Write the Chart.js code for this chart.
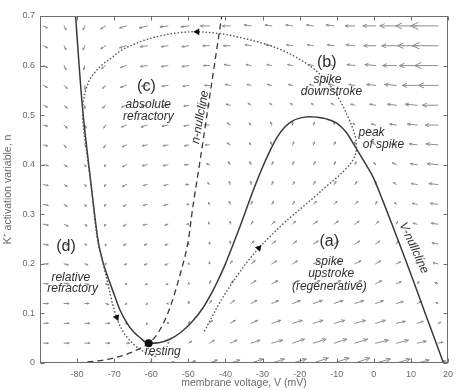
<!DOCTYPE html>
<html><head><meta charset="utf-8">
<script src="https://cdn.jsdelivr.net/npm/chart.js@4.4.1/dist/chart.umd.min.js"></script>
<style>html,body{margin:0;padding:0;background:#fff;}</style>
</head><body>
<canvas id="c" width="459" height="390" style="width:459px;height:390px;display:block"></canvas>
<script>
// ---------- data ----------
const xTickValues = [-90,-80,-70,-60,-50,-40,-30,-20,-10,0,10,20];
const yTickValues = [0,0.1,0.2,0.3,0.4,0.5,0.6,0.7];

// V-nullcline (solid)
const vNullV = [-80.4,-79.5,-78.5,-77.3,-76.1,-75.2,-74.3,-73.2,-71.4,-70,-68.5,-66.5,-64.8,-63,-60.8,-58,-55,-52,-49,-46,-43.6,-42,-40,-38,-36,-34,-32,-30,-28,-26,-24,-22,-20,-17.5,-15.4,-13,-10,-7.5,-5,-2.5,0,2.5,5,7.5,10,12.5,15,17.5,18.8];
const vNullN = [0.700,0.605,0.511,0.428,0.352,0.295,0.245,0.208,0.167,0.138,0.108,0.080,0.063,0.051,0.040,0.041,0.048,0.062,0.083,0.112,0.143,0.167,0.200,0.238,0.277,0.318,0.358,0.395,0.428,0.456,0.476,0.488,0.494,0.497,0.496,0.493,0.484,0.466,0.436,0.405,0.372,0.326,0.278,0.229,0.179,0.128,0.077,0.026,0.0];

// n-nullcline (dashed)
const nNullV = [-88,-84.6,-77.2,-70.1,-64,-59,-55.5,-52.1,-50,-48.9,-46.8,-44.8,-41.0];
const nNullN = [0,0,0.002,0.010,0.026,0.052,0.101,0.182,0.248,0.309,0.41,0.51,0.70];

// spike trajectory (dotted)
const trajV = [-45.6,-43.5,-41.3,-39,-36.5,-34,-31,-28,-25,-22,-19,-16,-13,-10,-7.5,-5.6,-4.7,-4.8,-5.6,-7,-8.8,-11,-13.8,-17,-21,-25,-30,-35.7,-41,-47.6,-53,-57.5,-61.5,-65,-68.2,-71,-73.2,-75,-76.5,-77.6,-78.3,-78.5,-78.2,-77.5,-76.6,-75.8,-75.1,-74.3,-73.3,-72.5,-71.7,-70.8,-69.9,-69.0,-67.8,-66.3,-64.5,-62.5,-60.5,-58.5];
const trajN = [0.065,0.095,0.125,0.152,0.18,0.205,0.232,0.255,0.277,0.297,0.316,0.335,0.355,0.374,0.392,0.41,0.43,0.45,0.472,0.497,0.525,0.552,0.577,0.598,0.617,0.632,0.645,0.656,0.664,0.668,0.666,0.66,0.652,0.642,0.63,0.614,0.602,0.588,0.573,0.552,0.528,0.5,0.47,0.43,0.38,0.33,0.28,0.24,0.21,0.185,0.16,0.13,0.105,0.085,0.066,0.05,0.036,0.025,0.017,0.013];

// direction markers on the trajectory (V, n, heading in degrees clockwise from up)
const markV = [-31, -47.6, -69.3];
const markN = [0.232, 0.668, 0.092];
const markHeading = [42, -90, 158];

// resting state
const restV = [-60.7];
const restN = [0.040];

// vector field grid
const fieldV = [-89.1,-83.5,-77.9,-72.3,-66.7,-61.1,-55.5,-49.9,-44.3,-38.7,-33.1,-27.5,-21.9,-16.3,-10.7,-5.1,0.5,6.1,11.7,17.3];
const fieldN = [0,0.04,0.08,0.12,0.16,0.20,0.24,0.28,0.32,0.36,0.40,0.44,0.48,0.52,0.56,0.60,0.64,0.68];
// arrow components: V part (mV), rows from n=0 upward
const arrowDV = [
 [1.3,1.3,1.3,1.3,1.3,1.3,1.6,1.8,2.1,2.6,3.2,3.4,3.7,4.0,4.0,4.0,4.0,3.7,3.2,2.1],
 [1.3,1.3,1.3,1.1,0.8,0,0.3,0.8,1.3,1.8,2.4,2.9,3.2,3.4,3.4,3.4,3.4,3.2,2.4,1.3],
 [1.3,1.3,1.3,1.1,0,-0.3,0,0.3,0.8,1.3,1.8,2.4,2.6,2.6,2.9,2.9,2.6,2.4,1.6,0.8],
 [1.3,1.3,1.1,0.8,-0.3,-0.3,-0.3,0,0.5,1.1,1.6,1.8,2.1,2.4,2.4,2.4,2.1,1.8,1.1,-0.5],
 [1.3,1.3,1.1,0.5,-0.3,-0.5,-0.5,0,0.3,0.8,1.3,1.6,1.8,1.8,1.8,1.8,1.6,1.3,0.5,-0.8],
 [1.3,1.1,0.8,0,-0.5,-0.8,-0.8,0,0,0.5,1.1,1.3,1.3,1.6,1.6,1.6,1.3,1.1,-0.3,-1.3],
 [1.3,1.1,0.5,0,-0.8,-0.8,-0.8,-0.3,0,0,0.8,1.1,1.1,1.3,1.3,1.3,1.1,0.5,-0.8,-1.6],
 [1.3,1.1,0.5,-0.3,-0.8,-1.1,-0.8,-0.5,-0.3,0,0.5,0.8,0.8,1.1,1.1,1.1,0.8,0.3,-1.1,-1.8],
 [1.3,0.8,0.3,-0.3,-0.8,-1.1,-1.1,-0.5,-0.3,-0.3,0.3,0.5,0.5,0.8,0.8,0.8,0.3,-0.5,-1.3,-2.1],
 [1.3,0.8,0.3,-0.3,-1.1,-1.1,-1.1,-0.8,-0.5,-0.3,0,0.3,0.5,0.5,0.5,0.5,0,-0.8,-1.6,-2.4],
 [1.3,0.8,0.3,-0.3,-1.1,-1.3,-1.3,-1.1,-0.8,-0.5,-0.3,0.3,0.3,0.5,0.3,0.3,-0.5,-1.1,-1.8,-2.9],
 [1.1,0.5,0.3,-0.5,-1.1,-1.3,-1.3,-1.1,-1.1,-0.8,-0.5,-0.3,0.3,0.3,0.3,0,-0.8,-1.3,-2.1,-3.2],
 [1.1,0.8,0.3,-0.5,-1.3,-1.6,-1.6,-1.3,-1.3,-0.8,-0.5,-0.3,0,0.3,0,-0.5,-1.1,-1.8,-2.6,-3.4],
 [1.1,0.8,0,-0.8,-1.3,-1.6,-1.6,-1.3,-1.3,-1.1,-0.8,-0.5,-0.5,-0.5,-0.8,-1.1,-1.6,-2.4,-3.2,-4.2],
 [1.1,0.8,0,-0.8,-1.6,-1.6,-1.6,-1.6,-1.3,-1.3,-1.1,-1.1,-1.1,-1.1,-1.3,-1.6,-2.4,-3.2,-4.0,-5.3],
 [1.1,0.5,-0.3,-1.1,-1.6,-1.8,-1.8,-1.8,-1.6,-1.6,-1.3,-1.3,-1.3,-1.3,-1.6,-2.1,-2.9,-3.7,-4.8,-6.3],
 [1.1,0.5,-0.5,-1.3,-1.8,-1.8,-1.8,-1.8,-1.8,-1.8,-1.6,-1.6,-1.6,-1.6,-1.8,-2.4,-3.2,-4.0,-5.3,-6.9],
 [1.1,0.5,-0.5,-1.3,-1.8,-2.1,-2.1,-2.1,-2.4,-2.1,-1.8,-1.8,-1.8,-1.8,-2.1,-2.6,-3.4,-4.5,-5.8,-7.4]
];
// arrow components: n part, rows from n=0 upward
const arrowDN = [
 [0,0,0,0,0,0.002,0.002,0.004,0.006,0.006,0.008,0.008,0.008,0.010,0.010,0.010,0.008,0.008,0.006,0.004],
 [0,0,0,0,0,0,0.002,0.004,0.006,0.006,0.006,0.006,0.008,0.008,0.008,0.008,0.006,0.006,0.004,0.002],
 [0,0,0,0,-0.002,-0.002,0.002,0.004,0.006,0.006,0.006,0.006,0.006,0.006,0.006,0.006,0.006,0.004,0.004,0.002],
 [0,0,0,-0.002,-0.002,-0.002,0,0.004,0.006,0.006,0.006,0.006,0.006,0.006,0.006,0.006,0.006,0.004,0.004,0.002],
 [0,0,-0.002,-0.002,-0.002,-0.002,-0.002,0.002,0.006,0.006,0.006,0.006,0.006,0.006,0.006,0.006,0.006,0.004,0.004,0.002],
 [0,-0.002,-0.002,-0.002,-0.002,-0.002,-0.002,0.002,0.004,0.006,0.006,0.006,0.006,0.006,0.006,0.006,0.006,0.004,0.004,0.002],
 [-0.002,-0.002,-0.002,-0.004,-0.002,-0.002,-0.002,0,0.004,0.006,0.006,0.006,0.006,0.006,0.006,0.006,0.006,0.006,0.002,0.002],
 [-0.002,-0.004,-0.004,-0.004,-0.004,-0.002,-0.002,0,0.004,0.006,0.006,0.006,0.006,0.006,0.006,0.006,0.006,0.006,0.002,0.002],
 [-0.002,-0.004,-0.004,-0.004,-0.004,-0.002,-0.002,0,0.004,0.006,0.006,0.006,0.006,0.006,0.006,0.006,0.006,0.004,0.002,0.002],
 [-0.002,-0.004,-0.004,-0.004,-0.004,-0.002,-0.002,0,0.004,0.006,0.006,0.006,0.006,0.006,0.006,0.006,0.006,0.004,0.002,0.002],
 [-0.002,-0.004,-0.004,-0.004,-0.004,-0.002,-0.002,0,0.002,0.006,0.006,0.006,0.006,0.006,0.006,0.006,0.004,0.004,0.002,0.002],
 [-0.002,-0.006,-0.004,-0.006,-0.004,-0.002,-0.002,-0.002,0,0.004,0.004,0.006,0.006,0.006,0.006,0.006,0.004,0.002,0.002,0.002],
 [-0.002,-0.006,-0.006,-0.006,-0.004,-0.004,-0.002,-0.002,0,0.004,0.004,0.006,0.006,0.006,0.006,0.004,0.002,0.002,0.002,0],
 [-0.004,-0.006,-0.006,-0.006,-0.004,-0.002,-0.002,-0.002,0,0.002,0.004,0.004,0.004,0.004,0.004,0.002,0.002,0.002,0.002,0],
 [-0.004,-0.006,-0.008,-0.006,-0.004,-0.002,-0.002,-0.002,0,0.002,0.002,0.002,0.002,0.002,0.002,0.002,0.002,0.002,0,0],
 [-0.004,-0.008,-0.008,-0.006,-0.004,-0.002,-0.002,-0.002,0,0.002,0.002,0.002,0.002,0.002,0.002,0.002,0.002,0,0,0],
 [-0.004,-0.008,-0.008,-0.006,-0.004,-0.002,-0.002,-0.002,0,0,0.002,0.002,0.002,0.002,0.002,0.002,0,0,0,0],
 [-0.004,-0.008,-0.008,-0.006,-0.004,-0.004,-0.002,-0.002,0,0,0.002,0.002,0.002,0.002,0.002,0,0,0,0,0]
];

// text annotations
const noteText = ["(c)","absolute","refractory","(b)","spike","downstroke","peak","of spike","(a)","spike","upstroke","(regenerative)","(d)","relative","refractory","resting","n-nullcline","V-nullcline"];
const noteV = [-61.3,-60.8,-60.8,-12.7,-12.5,-11.4,-0.6,2.6,-12,-12,-11.5,-12,-83,-81.7,-81.2,-56.9,-46.8,10.8];
const noteN = [0.557,0.522,0.496,0.607,0.571,0.547,0.464,0.44,0.244,0.204,0.18,0.153,0.234,0.173,0.149,0.022,0.496,0.232];

// ---------- styling ----------
const FONT = "'Liberation Sans', Arial, Helvetica, sans-serif";
const noteKind = ["big","it","it","big","it","it","it","it","big","it","it","it","big","it","it","it","it","it"];
const noteRot = [0,0,0,0,0,0,0,0,0,0,0,0,0,0,0,0,-80,65];

const pts = (xs, ys) => xs.map((v,i)=>({x:v,y:ys[i]}));

const fieldPlugin = {
  id:'field',
  beforeDatasetsDraw(chart){
    const {ctx, chartArea:a, scales:{x,y}} = chart;
    ctx.save();
    ctx.beginPath(); ctx.rect(a.left,a.top,a.right-a.left,a.bottom-a.top); ctx.clip();
    ctx.strokeStyle = '#8e8e8e'; ctx.lineWidth = 1; ctx.lineCap='round';
    for (let j=0;j<fieldN.length;j++){
      for (let k=0;k<fieldV.length;k++){
        const v=fieldV[k], n=fieldN[j];
        const x0=x.getPixelForValue(v), y0=y.getPixelForValue(n);
        const x1=x.getPixelForValue(v+arrowDV[j][k]), y1=y.getPixelForValue(n+arrowDN[j][k]);
        const dx=x1-x0, dy=y1-y0, L=Math.hypot(dx,dy);
        if (L<0.8) continue;
        const ang=Math.atan2(dy,dx), h=Math.max(1.6,0.3*L), sp=0.42;
        ctx.beginPath();
        ctx.moveTo(x0,y0); ctx.lineTo(x1,y1);
        ctx.moveTo(x1-h*Math.cos(ang-sp), y1-h*Math.sin(ang-sp));
        ctx.lineTo(x1,y1);
        ctx.lineTo(x1-h*Math.cos(ang+sp), y1-h*Math.sin(ang+sp));
        ctx.stroke();
      }
    }
    ctx.restore();
  }
};

const framePlugin = {
  id:'frame',
  afterDatasetsDraw(chart){
    const {ctx, chartArea:a, scales:{x,y}} = chart;
    ctx.save();
    // annotations
    ctx.fillStyle = '#2e2e2e';
    ctx.textAlign='center'; ctx.textBaseline='middle';
    for (let i=0;i<noteText.length;i++){
      const px=x.getPixelForValue(noteV[i]), py=y.getPixelForValue(noteN[i]);
      ctx.font = noteKind[i]==='big' ? `16px ${FONT}` : `italic 12px ${FONT}`;
      ctx.save(); ctx.translate(px,py); ctx.rotate(noteRot[i]*Math.PI/180);
      ctx.fillText(noteText[i],0,0); ctx.restore();
    }
    // frame and inward ticks
    ctx.strokeStyle='#6e6e6e'; ctx.lineWidth=1;
    const L=Math.round(a.left)+0.5, R=Math.round(a.right)-0.5, T=Math.round(a.top)+0.5, B=Math.round(a.bottom)-0.5;
    ctx.strokeRect(L,T,R-L,B-T);
    ctx.beginPath();
    xTickValues.forEach(v=>{ const px=Math.round(x.getPixelForValue(v))+0.5; ctx.moveTo(px,B); ctx.lineTo(px,B-4); ctx.moveTo(px,T); ctx.lineTo(px,T+4); });
    yTickValues.forEach(v=>{ const py=Math.round(y.getPixelForValue(v))+0.5; ctx.moveTo(L,py); ctx.lineTo(L+4,py); ctx.moveTo(R,py); ctx.lineTo(R-4,py); });
    ctx.stroke();
    ctx.restore();
  }
};

new Chart(document.getElementById('c'), {
  type:'scatter',
  data:{ datasets:[
    { label:'V-nullcline', data:pts(vNullV,vNullN), showLine:true, borderColor:'#3a3a3a', borderWidth:1.5, pointRadius:0, cubicInterpolationMode:'monotone', order:3 },
    { label:'n-nullcline', data:pts(nNullV,nNullN), showLine:true, borderColor:'#3a3a3a', borderWidth:1.3, borderDash:[6,4], pointRadius:0, cubicInterpolationMode:'monotone', order:3 },
    { label:'trajectory', data:pts(trajV,trajN), showLine:true, borderColor:'#555', borderWidth:1.6, borderDash:[0.1,3.4], borderCapStyle:'round', pointRadius:0, tension:0.35, order:2 },
    { label:'direction', data:pts(markV,markN), showLine:false, pointStyle:'triangle', rotation:markHeading, pointRadius:4, backgroundColor:'#111', borderColor:'#111', borderWidth:0, order:1 },
    { label:'rest', data:pts(restV,restN), showLine:false, pointStyle:'circle', pointRadius:4, backgroundColor:'#111', borderColor:'#111', borderWidth:0, order:1 }
  ]},
  options:{
    responsive:false, animation:false, devicePixelRatio:1,
    layout:{ padding:{ top:16, right:3, left:0, bottom:0 } },
    plugins:{ legend:{display:false}, tooltip:{enabled:false} },
    scales:{
      x:{ type:'linear', min:-90, max:20,
          afterBuildTicks:(s)=>{ s.ticks = xTickValues.map(v=>({value:v})); },
          ticks:{ padding:6, color:'#6a6a6a', font:{family:FONT, size:9}, maxRotation:0, autoSkip:false,
                  callback:(v)=> v===-90 ? '' : String(v) },
          grid:{ display:false, drawTicks:false }, border:{display:false},
          title:{ display:true, text:'membrane voltage, V (mV)', color:'#6a6a6a', font:{family:FONT, size:10.5}, padding:{top:0,bottom:1} },
          afterFit:(s)=>{ s.height = 27; } },
      y:{ type:'linear', min:0, max:0.7,
          afterBuildTicks:(s)=>{ s.ticks = yTickValues.map(v=>({value:v})); },
          ticks:{ padding:5, color:'#6a6a6a', font:{family:FONT, size:9}, autoSkip:false,
                  callback:(v)=> String(Math.round(v*10)/10) },
          grid:{ display:false, drawTicks:false }, border:{display:false},
          title:{ display:true, text:'K\u207A activation variable, n', color:'#6a6a6a', font:{family:FONT, size:10.5}, padding:{top:2,bottom:0} },
          afterFit:(s)=>{ s.width = 40; } }
    }
  },
  plugins:[fieldPlugin, framePlugin]
});
</script>
</body></html>
